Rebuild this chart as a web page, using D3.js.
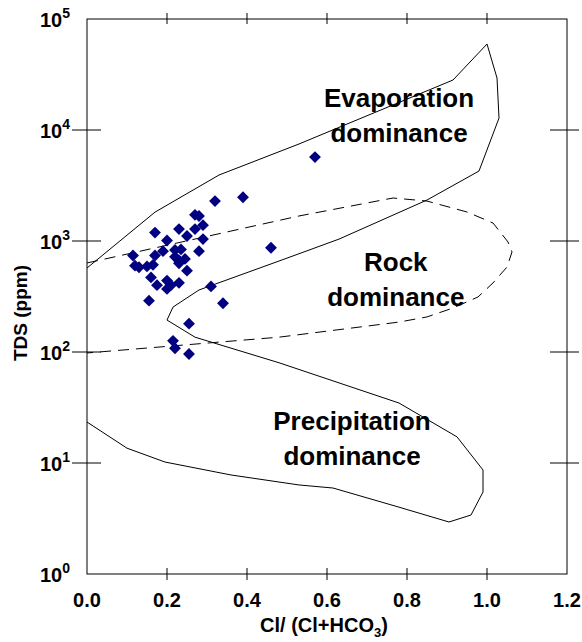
<!DOCTYPE html>
<html>
<head>
<meta charset="utf-8">
<script src="https://cdn.jsdelivr.net/npm/d3@7"></script>
<style>
    body { margin: 0; background: #fff; }
    svg { display: block; font-family: "Liberation Sans", Arial, Helvetica, sans-serif; font-weight: bold; }
</style>
</head>
<body>
<div id="chart"></div>
<script>
// Axis ticks
const xTickValues = [0, 0.2, 0.4, 0.6, 0.8, 1.0, 1.2];
const xInnerTicks = [0.2, 0.4, 0.6, 0.8, 1.0];
const yExponents = [0, 1, 2, 3, 4, 5];
const yInnerExponents = [1, 2, 3, 4];

// Sample points: Cl/(Cl+HCO3) and TDS (ppm)
const sampleRatio = [0.57, 0.39, 0.32, 0.27, 0.28, 0.29, 0.27, 0.23, 0.17, 0.25,
    0.29, 0.20, 0.28, 0.46, 0.22, 0.235, 0.19, 0.17, 0.115, 0.22,
    0.23, 0.245, 0.23, 0.12, 0.13, 0.15, 0.165, 0.25, 0.16, 0.175,
    0.20, 0.20, 0.21, 0.23, 0.31, 0.155, 0.34, 0.255, 0.215, 0.22, 0.255];
const sampleTDS = [5700, 2480, 2290, 1720, 1680, 1390, 1280, 1280, 1190, 1110,
    1040, 1010, 810, 870, 830, 840, 810, 740, 740, 720,
    670, 690, 630, 600, 580, 590, 610, 540, 470, 400,
    440, 370, 400, 420, 390, 290, 275, 180, 126, 108, 96];

// Gibbs envelope (solid boundary)
const envelopeRatio = [0, 0.17, 0.33, 0.53, 0.915, 1.0, 1.025, 1.03, 0.98, 0.85,
    0.63, 0.48, 0.28, 0.215, 0.20, 0.27, 0.48, 0.78, 0.925, 0.99,
    0.99, 0.96, 0.905, 0.78, 0.615, 0.53, 0.36, 0.195, 0.10, 0];
const envelopeTDS = [571, 1820, 3930, 7480, 28200, 59500, 29400, 12800, 4270, 2340,
    1040, 660, 362, 254, 194, 136, 80, 34.7, 17.2, 8.65,
    5.48, 3.4, 2.94, 4.0, 5.95, 6.34, 7.8, 10.2, 13.6, 23.4];

// Rock dominance field (dashed boundary)
const rockRatio = [0, 0.53, 0.765, 0.85, 0.95, 1.015, 1.0525, 1.0625, 1.05, 1.015,
    0.9775, 0.915, 0.85, 0.78, 0.48, 0];
const rockTDS = [634, 1680, 2440, 2290, 1825, 1453, 980, 796, 583, 419,
    313, 249, 207, 186, 136, 98];

// Region labels (first line anchor)
const regionNames = [["Evaporation", "dominance"], ["Rock", "dominance"], ["Precipitation", "dominance"]];
const regionRatio = [0.78, 0.772, 0.6625];
const regionTDS = [16000, 540, 20];

const width = 582;
const height = 642;
const margin = { top: 19, right: 15, bottom: 68, left: 87 };

const svg = d3.select("#chart")
    .append("svg")
    .attr("width", width)
    .attr("height", height);

const x = d3.scaleLinear()
    .domain([0, 1.2])
    .range([margin.left, width - margin.right]);

const y = d3.scaleLog()
    .domain([1, 1e5])
    .range([height - margin.bottom, margin.top]);

// Frame
svg.append("rect")
    .attr("x", x(0))
    .attr("y", y(1e5))
    .attr("width", x(1.2) - x(0))
    .attr("height", y(1) - y(1e5))
    .attr("fill", "none")
    .attr("stroke", "#000")
    .attr("stroke-width", 1);

// Tick marks crossing the frame
const tickG = svg.append("g").attr("stroke", "#000").attr("stroke-width", 1);

tickG.selectAll(".tb")
    .data(xInnerTicks)
    .join("line")
    .attr("x1", d => x(d)).attr("x2", d => x(d))
    .attr("y1", y(1) - 6).attr("y2", y(1) + 6);

tickG.selectAll(".tt")
    .data(xInnerTicks)
    .join("line")
    .attr("x1", d => x(d)).attr("x2", d => x(d))
    .attr("y1", y(1e5) - 6).attr("y2", y(1e5) + 5);

tickG.selectAll(".tl")
    .data(yInnerExponents)
    .join("line")
    .attr("x1", x(0) - 15).attr("x2", x(0) + 14)
    .attr("y1", d => y(10 ** d)).attr("y2", d => y(10 ** d));

tickG.selectAll(".tr")
    .data(yInnerExponents)
    .join("line")
    .attr("x1", x(1.2) - 17).attr("x2", x(1.2) + 12)
    .attr("y1", d => y(10 ** d)).attr("y2", d => y(10 ** d));

// X tick labels
svg.append("g")
    .selectAll("text")
    .data(xTickValues)
    .join("text")
    .attr("x", d => x(d))
    .attr("y", 607)
    .attr("text-anchor", "middle")
    .attr("font-size", "20px")
    .text(d => d.toFixed(1));

// Y tick labels as powers of ten
const yLabels = svg.append("g")
    .selectAll("text")
    .data(yExponents)
    .join("text")
    .attr("x", 70)
    .attr("y", d => y(10 ** d) + 8)
    .attr("text-anchor", "end")
    .attr("font-size", "20px");

yLabels.append("tspan").text("10");
yLabels.append("tspan")
    .attr("dy", -9)
    .attr("font-size", "14px")
    .text(d => d);

// Axis titles
svg.append("text")
    .attr("transform", "translate(27,313) rotate(-90)")
    .attr("text-anchor", "middle")
    .attr("font-size", "19px")
    .text("TDS (ppm)");

const xTitle = svg.append("text")
    .attr("x", 324)
    .attr("y", 632)
    .attr("text-anchor", "middle")
    .attr("font-size", "20px");
xTitle.append("tspan").text("Cl/ (Cl+HCO");
xTitle.append("tspan").attr("dy", 5).attr("font-size", "13px").text("3");
xTitle.append("tspan").attr("dy", -5).text(")");

// Boundaries
const line = d3.line()
    .x(d => x(d[0]))
    .y(d => y(d[1]));

svg.append("path")
    .datum(d3.zip(envelopeRatio, envelopeTDS))
    .attr("d", line)
    .attr("fill", "none")
    .attr("stroke", "#000")
    .attr("stroke-width", 1);

svg.append("path")
    .datum(d3.zip(rockRatio, rockTDS))
    .attr("d", line)
    .attr("fill", "none")
    .attr("stroke", "#000")
    .attr("stroke-width", 1)
    .attr("stroke-dasharray", "11,7");

// Region labels
const regions = svg.append("g")
    .selectAll("text")
    .data(regionNames)
    .join("text")
    .attr("text-anchor", "middle")
    .attr("font-size", "26px")
    .attr("fill", "#000");

regions.selectAll("tspan")
    .data((d, i) => d.map(t => ({ t, i })))
    .join("tspan")
    .attr("x", d => x(regionRatio[d.i]))
    .attr("y", (d, j) => y(regionTDS[d.i]) + j * 35)
    .text(d => d.t);

// Samples
svg.append("g")
    .selectAll("path")
    .data(d3.zip(sampleRatio, sampleTDS))
    .join("path")
    .attr("d", d3.symbol(d3.symbolSquare, 70))
    .attr("transform", d => `translate(${x(d[0])},${y(d[1])}) rotate(45)`)
    .attr("fill", "#000080");
</script>
</body>
</html>
